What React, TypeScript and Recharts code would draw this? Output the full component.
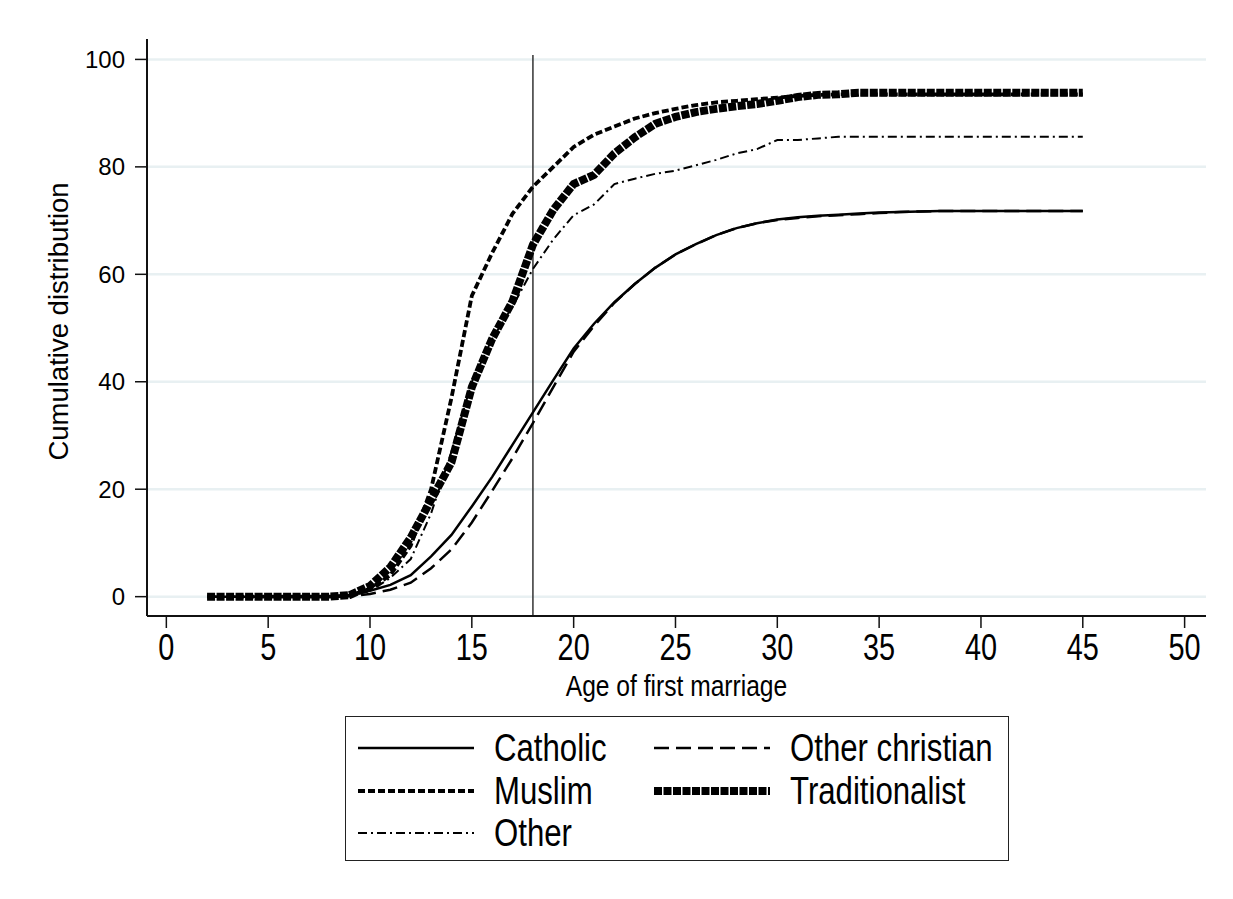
import React from "react";
import { LineChart, Line, XAxis, YAxis, ReferenceLine } from "recharts";

// age at first marriage (years)
const ages = [
  2, 3, 4, 5, 6, 7, 8, 9, 10, 11, 12, 13, 14, 15, 16, 17, 18, 19, 20, 21, 22, 23,
  24, 25, 26, 27, 28, 29, 30, 31, 32, 33, 34, 35, 36, 37, 38, 39, 40, 41, 42, 43, 44, 45,
];

// cumulative % married, by religion
const catholic = [
  0, 0, 0, 0, 0, 0, 0, 0.2, 1.1, 2.2, 4, 7.5, 11.5, 16.8, 22.3, 28.3, 34.3, 40.3, 46.2, 50.8,
  54.8, 58.2, 61.2, 63.7, 65.6, 67.3, 68.6, 69.5, 70.2, 70.6, 70.9, 71.1, 71.3, 71.5, 71.6,
  71.7, 71.8, 71.8, 71.8, 71.8, 71.8, 71.8, 71.8, 71.8,
];
const otherChristian = [
  0, 0, 0, 0, 0, 0, 0, 0.1, 0.5, 1.3, 2.6, 5.3, 8.8, 13.8, 19.7, 25.8, 32.3, 39, 45.6, 50.4,
  54.7, 58.2, 61.2, 63.7, 65.6, 67.3, 68.6, 69.5, 70.1, 70.5, 70.8, 71, 71.2, 71.4, 71.6, 71.7,
  71.8, 71.8, 71.8, 71.8, 71.8, 71.8, 71.8, 71.8,
];
const muslim = [
  0, 0, 0, 0, 0, 0, 0, 0.2, 1.5, 4, 9.5, 20, 37, 56, 64, 71.3, 76.3, 80, 83.7, 86, 87.5, 89,
  90, 90.8, 91.5, 92, 92.3, 92.6, 92.9, 93.2, 93.4, 93.5, 93.5, 93.5, 93.5, 93.5, 93.5, 93.5,
  93.5, 93.5, 93.5, 93.5, 93.5, 93.5,
];
const traditionalist = [
  0, 0, 0, 0, 0, 0, 0, 0.3, 2, 5.5, 11, 18, 25, 39, 48, 55, 65.5, 72, 76.8, 78.5, 82.5, 85.5,
  88, 89.3, 90.2, 90.8, 91.3, 91.7, 92.3, 93, 93.4, 93.5, 93.8, 93.8, 93.8, 93.8, 93.8, 93.8,
  93.8, 93.8, 93.8, 93.8, 93.8, 93.8,
];
const other = [
  0, 0, 0, 0, 0, 0, 0, 0.2, 1, 3.5, 7, 15.5, 27, 40, 48, 54, 61, 66.5, 71, 73, 76.8, 77.8,
  78.7, 79.3, 80.3, 81.3, 82.5, 83.3, 85, 85, 85.3, 85.6, 85.6, 85.6, 85.6, 85.6, 85.6, 85.6,
  85.6, 85.6, 85.6, 85.6, 85.6, 85.6,
];

const xTicks = [0, 5, 10, 15, 20, 25, 30, 35, 40, 45, 50];
const yTicks = [0, 20, 40, 60, 80, 100];
const cutoffAge = 18;

const FONT = "'Liberation Sans', Arial, sans-serif";

const data = ages.map((age, i) => ({
  age,
  catholic: catholic[i],
  otherChristian: otherChristian[i],
  muslim: muslim[i],
  traditionalist: traditionalist[i],
  other: other[i],
}));

// line styles shared by the series and the legend samples
const SERIES = [
  { key: "catholic", name: "Catholic", width: 2.5, dash: undefined as string | undefined },
  { key: "otherChristian", name: "Other christian", width: 2.5, dash: "15 7" },
  { key: "muslim", name: "Muslim", width: 3.8, dash: "7 3" },
  { key: "traditionalist", name: "Traditionalist", width: 8, dash: "8 1.5" },
  { key: "other", name: "Other", width: 2, dash: "9 4 2 4" },
];

const legendSlots: Record<string, { col: number; row: number }> = {
  catholic: { col: 0, row: 0 },
  otherChristian: { col: 1, row: 0 },
  muslim: { col: 0, row: 1 },
  traditionalist: { col: 1, row: 1 },
  other: { col: 0, row: 2 },
};

// condensed look: regular sans squeezed horizontally
const NarrowXTick = (props: any) => {
  const { x, y, payload } = props;
  return (
    <text
      x={x}
      y={y}
      transform={`translate(${x} ${y}) scale(0.78 1) translate(${-x} ${-y})`}
      textAnchor="middle"
      dy="0.76em"
      fontFamily={FONT}
      fontSize={37}
      fill="#000"
    >
      {payload.value}
    </text>
  );
};

const XLabel = (props: any) => {
  const { viewBox } = props;
  const cx = viewBox.x + viewBox.width / 2;
  const cy = viewBox.y + 70;
  return (
    <text
      x={cx}
      y={cy}
      transform={`translate(${cx} ${cy}) scale(0.82 1) translate(${-cx} ${-cy})`}
      textAnchor="middle"
      dominantBaseline="central"
      fontFamily={FONT}
      fontSize={30}
      fill="#000"
    >
      Age of first marriage
    </text>
  );
};

const YLabel = (props: any) => {
  const { viewBox } = props;
  const cx = 58;
  const cy = viewBox.y + viewBox.height / 2 - 6;
  return (
    <text
      x={cx}
      y={cy}
      transform={`rotate(-90 ${cx} ${cy})`}
      textAnchor="middle"
      dominantBaseline="central"
      fontFamily={FONT}
      fontSize={27.5}
      fill="#000"
    >
      Cumulative distribution
    </text>
  );
};

function LegendBox() {
  const colX = [12, 308];
  const rowY = [31, 74, 116];
  return (
    <div
      style={{
        position: "absolute",
        left: 345,
        top: 716,
        width: 664,
        height: 145,
        border: "1.5px solid #222",
        boxSizing: "border-box",
      }}
    >
      {SERIES.map((s) => {
        const slot = legendSlots[s.key];
        const x = colX[slot.col];
        const y = rowY[slot.row];
        return (
          <React.Fragment key={s.key}>
            <svg
              width={118}
              height={12}
              style={{ position: "absolute", left: x, top: y - 6 }}
            >
              <line
                x1={0}
                x2={116}
                y1={6}
                y2={6}
                stroke="#000"
                strokeWidth={s.width}
                strokeDasharray={s.dash}
              />
            </svg>
            <span
              style={{
                position: "absolute",
                left: x + 136,
                top: y - 22,
                fontFamily: FONT,
                fontSize: 38,
                lineHeight: "44px",
                color: "#000",
                whiteSpace: "nowrap",
                transform: "scaleX(0.82)",
                transformOrigin: "left center",
              }}
            >
              {s.name}
            </span>
          </React.Fragment>
        );
      })}
    </div>
  );
}

export default function App() {
  return (
    <div
      style={{
        position: "relative",
        width: 1233,
        height: 899,
        margin: -8,
        background: "#fff",
        overflow: "hidden",
      }}
    >
      <div
        style={{
          position: "absolute",
          left: 3,
          right: 0,
          top: 7,
          borderTop: "1px solid #dcdcdc",
        }}
      />
      <LineChart
        width={1233}
        height={710}
        data={data}
        margin={{ top: 39, right: 27, bottom: 0, left: 0 }}
        style={{ position: "absolute", left: 0, top: 0 }}
      >
        <XAxis
          dataKey="age"
          type="number"
          domain={[-0.95, 51.05]}
          ticks={xTicks}
          interval={0}
          height={94}
          tickSize={12}
          tickMargin={4}
          axisLine={{ stroke: "#111", strokeWidth: 2 }}
          tickLine={{ stroke: "#111", strokeWidth: 1.5 }}
          tick={<NarrowXTick />}
          label={<XLabel />}
        />
        <YAxis
          type="number"
          domain={[-3.6, 103.8]}
          ticks={yTicks}
          interval={0}
          width={147}
          tickSize={12}
          tickMargin={10}
          axisLine={{ stroke: "#111", strokeWidth: 2 }}
          tickLine={{ stroke: "#111", strokeWidth: 1.5 }}
          tick={{ fontFamily: FONT, fontSize: 24, fill: "#000" }}
          label={<YLabel />}
        />
        {/* horizontal gridlines only at the labelled ticks */}
        {yTicks.map((v) => (
          <ReferenceLine key={v} y={v} stroke="#e8f0f2" strokeWidth={2.5} />
        ))}
        <ReferenceLine
          segment={[
            { x: cutoffAge, y: -3.6 },
            { x: cutoffAge, y: 100.8 },
          ]}
          stroke="#333"
          strokeWidth={1.5}
        />
        {SERIES.map((s) => (
          <Line
            key={s.key}
            dataKey={s.key}
            name={s.name}
            type="linear"
            stroke="#000"
            strokeWidth={s.width}
            strokeDasharray={s.dash}
            dot={false}
            activeDot={false}
            isAnimationActive={false}
          />
        ))}
      </LineChart>
      <LegendBox />
    </div>
  );
}
